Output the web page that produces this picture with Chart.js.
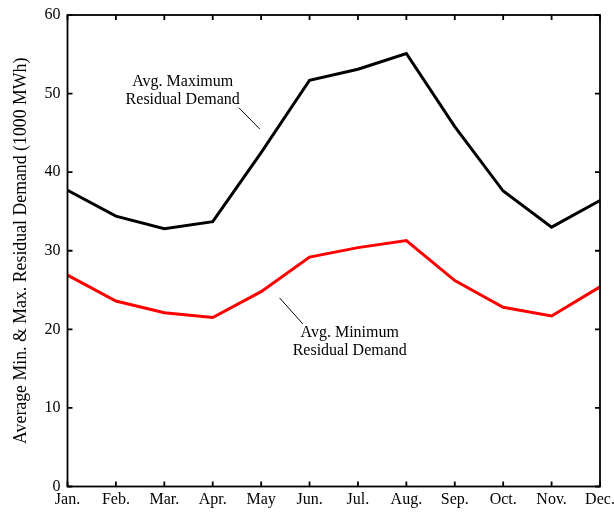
<!DOCTYPE html>
<html>
<head>
<meta charset="utf-8">
<script src="https://cdn.jsdelivr.net/npm/chart.js@4.4.0/dist/chart.umd.min.js"></script>
<style>
  html, body { margin: 0; padding: 0; background: #fff; }
  #wrap { width: 614px; height: 512px; }
</style>
</head>
<body>
<div id="wrap"><canvas id="demandChart" width="614" height="512"></canvas></div>
<script>
const months = ["Jan.", "Feb.", "Mar.", "Apr.", "May", "Jun.", "Jul.", "Aug.", "Sep.", "Oct.", "Nov.", "Dec."];
const maxDemand = [37.7, 34.4, 32.8, 33.7, 42.5, 51.7, 53.1, 55.1, 45.8, 37.6, 33.0, 36.4];
const minDemand = [26.9, 23.6, 22.1, 21.5, 24.8, 29.2, 30.4, 31.3, 26.2, 22.8, 21.7, 25.4];
const yTicks = [0, 10, 20, 30, 40, 50, 60];

const serif = "'Liberation Serif', 'Times New Roman', serif";

// Annotations placed in data coordinates (month index, value)
const notes = [
    { lines: ["Avg. Maximum", "Residual Demand"], at: [2.38, 50.4], from: [3.54, 48.2], to: [3.97, 45.5] },
    { lines: ["Avg. Minimum", "Residual Demand"], at: [5.83, 18.4], from: [4.38, 24.0], to: [4.86, 20.7] }
];

// box frame with inward ticks + annotations
const framePlugin = {
    id: "frame",
    afterDatasetsDraw(chart) {
        const { ctx, chartArea: a, scales: { x, y } } = chart;
        ctx.save();
        ctx.strokeStyle = "#000";
        ctx.lineWidth = 1.8;
        ctx.strokeRect(a.left, a.top, a.right - a.left, a.bottom - a.top);
        const t = 5;
        ctx.beginPath();
        months.forEach((m, i) => {
            const px = x.getPixelForValue(i);
            ctx.moveTo(px, a.bottom); ctx.lineTo(px, a.bottom - t);
            ctx.moveTo(px, a.top); ctx.lineTo(px, a.top + t);
        });
        yTicks.forEach(v => {
            const py = y.getPixelForValue(v);
            ctx.moveTo(a.left, py); ctx.lineTo(a.left + t, py);
            ctx.moveTo(a.right, py); ctx.lineTo(a.right - t, py);
        });
        ctx.stroke();

        ctx.fillStyle = "#000";
        ctx.font = "16px " + serif;
        ctx.textAlign = "center";
        ctx.textBaseline = "middle";
        notes.forEach(n => {
            const cx = x.getPixelForValue(n.at[0]);
            const cy = y.getPixelForValue(n.at[1]);
            ctx.fillText(n.lines[0], cx, cy - 9);
            ctx.fillText(n.lines[1], cx, cy + 9);
            ctx.lineWidth = 1;
            ctx.beginPath();
            ctx.moveTo(x.getPixelForValue(n.from[0]), y.getPixelForValue(n.from[1]));
            ctx.lineTo(x.getPixelForValue(n.to[0]), y.getPixelForValue(n.to[1]));
            ctx.stroke();
        });
        ctx.restore();
    }
};

const ctx = document.getElementById("demandChart").getContext("2d");
new Chart(ctx, {
    type: "line",
    data: {
        labels: months,
        datasets: [
            {
                label: "Avg. Maximum Residual Demand",
                data: maxDemand,
                borderColor: "#000",
                borderWidth: 3,
                pointRadius: 0,
                tension: 0,
            },
            {
                label: "Avg. Minimum Residual Demand",
                data: minDemand,
                borderColor: "#ff0000",
                borderWidth: 3,
                pointRadius: 0,
                tension: 0,
            },
        ],
    },
    options: {
        responsive: false,
        animation: false,
        layout: { autoPadding: false, padding: { top: 15, right: 14, left: 0, bottom: 0 } },
        plugins: { legend: { display: false }, tooltip: { enabled: false } },
        scales: {
            x: {
                offset: false,
                grid: { display: false, drawTicks: false },
                border: { display: false },
                ticks: {
                    color: "#000",
                    padding: 4,
                    maxRotation: 0,
                    autoSkip: false,
                    font: { family: serif, size: 16 },
                },
                afterFit(scale) {
                    scale.height = 25.5;
                    scale.paddingLeft = 0;
                    scale.paddingRight = 0;
                },
            },
            y: {
                min: 0,
                max: 60,
                grid: { display: false, drawTicks: false },
                border: { display: false },
                afterBuildTicks(scale) { scale.ticks = yTicks.map(v => ({ value: v })); },
                ticks: {
                    color: "#000",
                    padding: 7,
                    font: { family: serif, size: 16 },
                },
                title: {
                    display: true,
                    text: "Average Min. & Max. Residual Demand (1000 MWh)",
                    color: "#000",
                    padding: { top: 11, bottom: 0 },
                    font: { family: serif, size: 17.8, weight: "normal" },
                },
                afterFit(scale) {
                    scale.width = 67.5;
                    scale.paddingTop = 0;
                    scale.paddingBottom = 0;
                },
            },
        },
    },
    plugins: [framePlugin],
});
</script>
</body>
</html>
